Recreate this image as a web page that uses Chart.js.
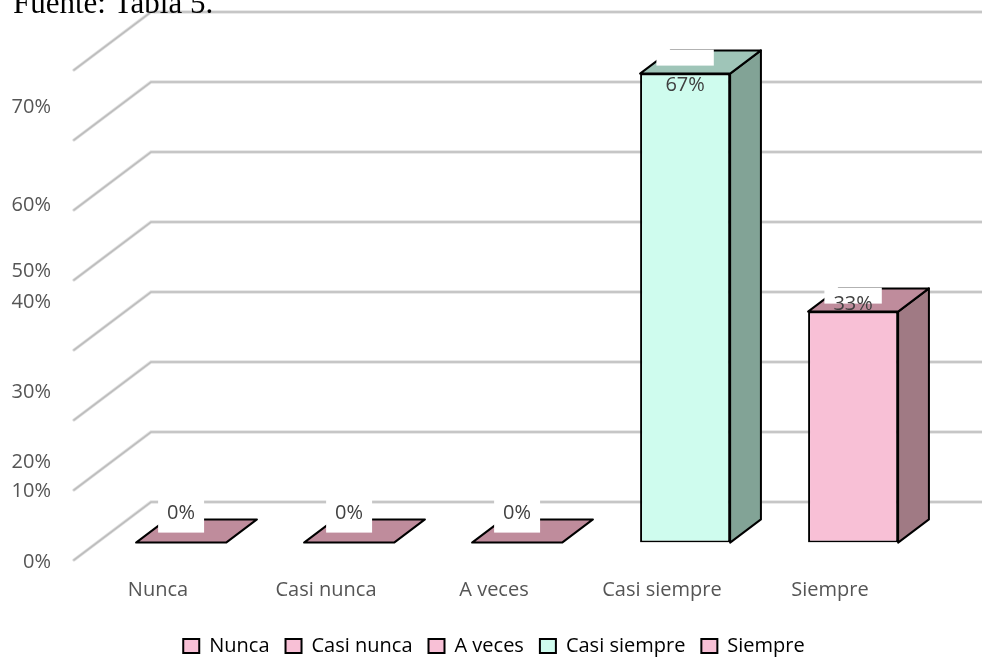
<!DOCTYPE html>
<html>
<head>
<meta charset="utf-8">
<script src="https://cdn.jsdelivr.net/npm/chart.js@4.4.1/dist/chart.umd.min.js"></script>
<style>
  html, body { margin: 0; padding: 0; background: #fff; }
  #wrap { width: 982px; height: 658px; }
</style>
</head>
<body>
<div id="wrap"><canvas id="grafico"></canvas></div>
<script>
const categorias = ['Nunca', 'Casi nunca', 'A veces', 'Casi siempre', 'Siempre'];
const porcentajes = [0, 0, 0, 67, 33];
const etiquetasEje = ['0%', '10%', '20%', '30%', '40%', '50%', '60%', '70%'];
const maxEje = 70;

// caras de cada barra: frente, lado derecho y tapa
const colorFrente = ['#F8C0D6', '#F8C0D6', '#F8C0D6', '#CFFCEE', '#F8C0D6'];
const colorLado = ['#A07A84', '#A07A84', '#A07A84', '#82A396', '#A07A84'];
const colorTapa = ['#BF8C9C', '#BF8C9C', '#BF8C9C', '#9FC5B8', '#BF8C9C'];

// las etiquetas del eje Y no caen justo sobre su línea
const desfaseEje = [2, 1, 42, 42, 22, 61, 65, 37];
// altura del texto de cada dato respecto a la tapa
const desfaseDato = [-29, -29, -29, 12, -7];

const FONDO = { dx: 77, dy: -58 };     // profundidad hasta la pared del fondo
const BARRA = { ini: 0.3, fin: 0.7 };   // tramo de la profundidad que ocupa la barra
const fuente = { family: 'Open Sans', size: 20 };
const gris = '#555555';

const offX = FONDO.dx * BARRA.ini, offY = FONDO.dy * BARRA.ini;
const profX = FONDO.dx * (BARRA.fin - BARRA.ini), profY = FONDO.dy * (BARRA.fin - BARRA.ini);

function poligono(ctx, pts, relleno) {
  ctx.beginPath();
  ctx.moveTo(pts[0][0], pts[0][1]);
  pts.slice(1).forEach(p => ctx.lineTo(p[0], p[1]));
  ctx.closePath();
  ctx.fillStyle = relleno;
  ctx.fill();
  ctx.stroke();
}

const cubo3d = {
  id: 'cubo3d',
  beforeDatasetsDraw(chart) {
    const { ctx, chartArea, scales: { y } } = chart;
    ctx.save();
    ctx.lineCap = 'round';
    // paredes: diagonal lateral + línea horizontal del fondo
    y.ticks.forEach(t => {
      const py = y.getPixelForValue(t.value);
      const bx = chartArea.left + FONDO.dx, by = py + FONDO.dy;
      [['#E2E2E2', 3.4], ['#BDBDBD', 1.6]].forEach(([c, w]) => {
        ctx.strokeStyle = c;
        ctx.lineWidth = w;
        ctx.beginPath();
        ctx.moveTo(chartArea.left, py);
        ctx.lineTo(bx, by);
        ctx.lineTo(chart.width, by);
        ctx.stroke();
      });
    });
    ctx.restore();
    // el frente de las barras va un poco hacia dentro
    ctx.save();
    ctx.translate(offX, offY);
  },
  afterDatasetsDraw(chart) {
    const { ctx } = chart;
    ctx.restore();
    const meta = chart.getDatasetMeta(0);
    ctx.save();
    ctx.strokeStyle = '#000';
    ctx.lineWidth = 2;
    ctx.lineJoin = 'round';
    meta.data.forEach((el, i) => {
      const { x, y, base, width } = el.getProps(['x', 'y', 'base', 'width'], true);
      const L = x - width / 2 + offX, R = x + width / 2 + offX;
      const T = y + offY, B = base + offY;
      if (B - T > 0.5) {
        poligono(ctx, [[R, T], [R + profX, T + profY], [R + profX, B + profY], [R, B]], colorLado[i]);
      }
      poligono(ctx, [[L, T], [R, T], [R + profX, T + profY], [L + profX, T + profY]], colorTapa[i]);
    });
    // etiquetas de datos con su recuadro blanco
    ctx.font = `${fuente.size}px "${fuente.family}"`;
    ctx.textAlign = 'center';
    ctx.textBaseline = 'middle';
    meta.data.forEach((el, i) => {
      const { x, y } = el.getProps(['x', 'y'], true);
      const cx = x + offX, top = y + offY;
      const txt = porcentajes[i] + '%';
      const w = ctx.measureText(txt).width + 18;
      const cajaSup = porcentajes[i] === 0 ? top - 44 : top - 24;
      const cajaInf = porcentajes[i] === 0 ? top - 10 : top - 8;
      ctx.fillStyle = '#fff';
      ctx.fillRect(cx - w / 2, cajaSup, w, cajaInf - cajaSup);
      ctx.fillStyle = '#404040';
      ctx.fillText(txt, cx, top + desfaseDato[i]);
    });
    ctx.restore();
  },
  afterDraw(chart) {
    const { ctx, scales: { y } } = chart;
    ctx.save();
    ctx.font = `${fuente.size}px "${fuente.family}"`;
    ctx.fillStyle = gris;
    ctx.textAlign = 'right';
    ctx.textBaseline = 'middle';
    y.ticks.forEach((t, i) => {
      ctx.fillText(etiquetasEje[i], 51, y.getPixelForValue(t.value) + desfaseEje[i]);
    });
    ctx.font = '31px "Liberation Serif"';
    ctx.fillStyle = '#000';
    ctx.textAlign = 'left';
    ctx.textBaseline = 'alphabetic';
    ctx.fillText('Fuente: Tabla 5.', 13, 13);
    ctx.restore();
  }
};

new Chart(document.getElementById('grafico'), {
  type: 'bar',
  data: {
    labels: categorias,
    datasets: [{
      data: porcentajes,
      backgroundColor: colorFrente,
      borderColor: '#000',
      borderWidth: 2,
      borderSkipped: false,
      categoryPercentage: 1,
      barPercentage: 0.536
    }]
  },
  options: {
    responsive: true,
    maintainAspectRatio: false,
    animation: false,
    layout: { padding: { left: 74, right: 68, top: 70, bottom: -8 } },
    scales: {
      x: {
        grid: { display: false, drawTicks: false },
        border: { display: false },
        ticks: { color: gris, font: fuente, padding: 18 },
        afterFit: s => { s.height = 60; }
      },
      y: {
        display: false,
        min: 0,
        max: maxEje,
        ticks: { stepSize: 10 }
      }
    },
    plugins: {
      legend: {
        position: 'bottom',
        labels: {
          boxWidth: 16,
          boxHeight: 14,
          padding: 16,
          color: gris,
          font: fuente,
          generateLabels: () => categorias.map((c, i) => ({
            text: c,
            fillStyle: colorFrente[i],
            strokeStyle: '#000',
            lineWidth: 2,
            hidden: false,
            index: i
          }))
        }
      },
      tooltip: { enabled: false }
    }
  },
  plugins: [cubo3d]
});
</script>
</body>
</html>
